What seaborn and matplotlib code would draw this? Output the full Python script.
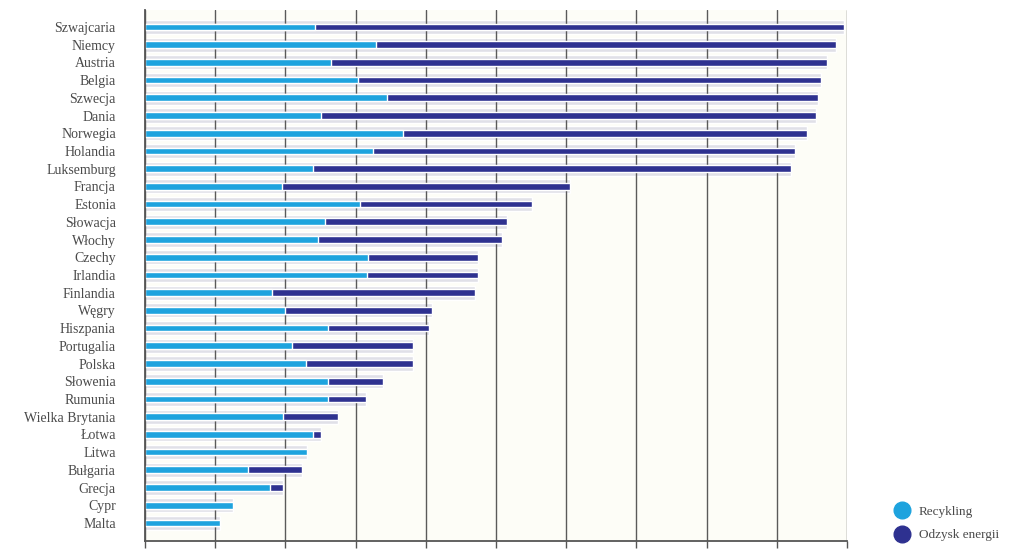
import numpy as np
import pandas as pd
import matplotlib
matplotlib.use("Agg")
import matplotlib.pyplot as plt
import seaborn as sns
from matplotlib.lines import Line2D

# data (% of municipal waste)
countries = ['Szwajcaria', 'Niemcy', 'Austria', 'Belgia', 'Szwecja', 'Dania',
             'Norwegia', 'Holandia', 'Luksemburg', 'Francja', 'Estonia',
             'Słowacja', 'Włochy', 'Czechy', 'Irlandia', 'Finlandia', 'Węgry',
             'Hiszpania', 'Portugalia', 'Polska', 'Słowenia', 'Rumunia',
             'Wielka Brytania', 'Łotwa', 'Litwa', 'Bułgaria', 'Grecja',
             'Cypr', 'Malta']
recycling = [24.2, 32.9, 26.5, 30.3, 34.5, 25.1, 36.8, 32.5, 23.9, 19.5, 30.6,
             25.6, 24.6, 31.8, 31.6, 18.1, 20.0, 26.1, 20.9, 22.9, 26.1, 26.1,
             19.7, 23.9, 23.1, 14.7, 17.8, 12.5, 10.7]
energy = [75.4, 65.5, 70.7, 66.0, 61.4, 70.5, 57.5, 60.1, 68.1, 41.1, 24.5,
          26.0, 26.3, 15.7, 15.9, 28.9, 20.9, 14.4, 17.3, 15.3, 7.8, 5.4,
          7.8, 1.2, 0.0, 7.7, 1.9, 0.0, 0.0]

df = pd.DataFrame({'kraj': countries, 'rec': recycling, 'en': energy})
df['total'] = df['rec'] + df['en']

c_rec = '#1ea3de'
c_en = '#2e3190'

sns.set_style("white")
plt.rcParams['font.family'] = ['Liberation Serif', 'DejaVu Serif']

fig = plt.figure(figsize=(10.24, 5.53), dpi=100, facecolor='white')
ax = fig.add_axes([0.1416, 0.0217, 0.6855, 0.9603])
ax.set_facecolor('#fdfdf7')

# grey shadow band behind each bar
sns.barplot(data=df, x='total', y='kraj', color='#e0e0e8', width=0.8,
            saturation=1, ax=ax, zorder=1)
sns.barplot(data=df, x='total', y='kraj', color=c_en, width=0.38,
            saturation=1, ax=ax, zorder=3)
sns.barplot(data=df, x='rec', y='kraj', color=c_rec, width=0.38,
            saturation=1, ax=ax, zorder=4)

ax.set_xlim(0, 100)
ax.set_ylim(len(countries) - 1 + 1.02, -0.96)
ax.set_xticks(np.arange(0, 101, 10))
ax.set_xticklabels([])
ax.set_axisbelow(False)  # grid over the grey bands, under the bars
ax.grid(axis='x', color='#5a5a5a', lw=1)
ax.grid(axis='y', visible=False)
ax.set_xlabel('')
ax.set_ylabel('')
ax.tick_params(axis='x', direction='out', length=5, width=1, color='#555555', bottom=True)
ax.tick_params(axis='y', length=0, pad=21, labelsize=10, labelcolor='#4a4a4a')

for s in ['top', 'right']:
    ax.spines[s].set_visible(False)
for s in ['left', 'bottom']:
    ax.spines[s].set_color('#555555')
    ax.spines[s].set_linewidth(1.3)
    ax.spines[s].set_zorder(5)

handles = [Line2D([], [], marker='o', ls='', markersize=12, color=c_rec),
           Line2D([], [], marker='o', ls='', markersize=12, color=c_en)]
fig.legend(handles, ['Recykling', 'Odzysk energii'], loc='lower left',
           bbox_to_anchor=(0.856, 0.0), frameon=False, fontsize=9.5,
           handletextpad=0.3, labelspacing=0.85, labelcolor='#4a4a4a')

fig.savefig('out.png', dpi=100, facecolor='white')
